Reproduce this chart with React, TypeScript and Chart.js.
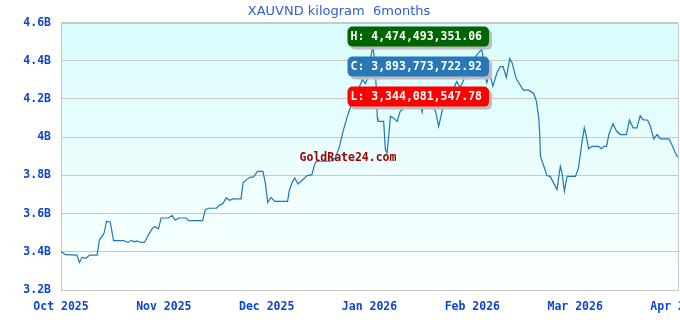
import React, { useEffect, useRef } from 'react';
import { Chart, registerables } from 'chart.js';

Chart.register(...registerables);

const TITLE = 'XAUVND kilogram  6months';
const MONTH_LABELS = ['Oct 2025', 'Nov 2025', 'Dec 2025', 'Jan 2026', 'Feb 2026', 'Mar 2026', 'Apr 2026'];
const WATERMARK = 'GoldRate24.com';

// day offset from 1 Oct 2025
const DAYS = [
  0, 1.3, 4.7, 5.5, 6.2, 7.4, 8.5, 10.7, 11.4, 12.2, 12.8, 13.5, 14.6, 15.6, 18.6, 19.8, 20.9, 21.7, 22.5, 23.7,
  24.8, 25.8, 27.0, 27.8, 28.9, 29.7, 31.9, 32.9, 33.9, 34.9, 37.2, 37.8, 42.0, 42.8, 43.8, 46.1, 47.0, 48.0, 49.0, 50.0,
  51.0, 53.4, 54.0, 55.0, 56.1, 57.1, 58.3, 59.9, 60.6, 61.3, 62.3, 63.4, 67.2, 67.7, 68.5, 69.3, 70.3, 73.0, 74.4, 75.4,
  75.9, 79.9, 81.4, 82.6, 83.8, 84.8, 85.8, 87.3, 88.8, 89.4, 90.3, 90.9, 91.7, 92.5, 93.1, 93.6, 93.8, 94.0, 95.7, 96.2,
  96.7, 97.2, 97.7, 98.6, 99.7, 100.6, 101.2, 103.6, 106.3, 107.1, 107.8, 109.6, 111.1, 112.0, 112.7, 113.4, 115.5, 117.4, 118.4, 120.2,
  122.0, 123.2, 123.8, 124.8, 125.3, 125.8, 126.3, 127.1, 128.1, 129.3, 130.3, 131.1, 132.1, 133.1, 133.8, 135.0, 136.7, 137.2, 138.7, 140.2,
  141.0, 141.7, 142.0, 142.2, 142.7, 143.4, 144.1, 145.1, 147.1, 148.1, 148.6, 149.3, 150.1, 152.6, 153.5, 154.5, 155.2, 155.8, 156.5, 157.5,
  159.5, 160.3, 161.0, 161.8, 162.5, 163.7, 164.8, 165.9, 167.7, 168.6, 169.7, 170.8, 171.8, 172.6, 174.0, 174.8, 175.8, 176.8, 177.8, 180.3,
  181.2, 182.2, 182.9,
];

// price in billions VND
const PRICES_B = [
  3.402, 3.385, 3.383, 3.344, 3.371, 3.366, 3.383, 3.383, 3.464, 3.481, 3.499, 3.559, 3.556, 3.458, 3.458, 3.449, 3.46, 3.452, 3.457, 3.449,
  3.449, 3.485, 3.52, 3.532, 3.52, 3.577, 3.577, 3.591, 3.565, 3.577, 3.577, 3.563, 3.563, 3.621, 3.628, 3.628, 3.645, 3.652, 3.682, 3.67,
  3.677, 3.677, 3.761, 3.778, 3.79, 3.792, 3.821, 3.821, 3.761, 3.659, 3.685, 3.664, 3.664, 3.72, 3.761, 3.787, 3.755, 3.799, 3.804, 3.866,
  3.874, 3.874, 3.892, 3.952, 4.04, 4.101, 4.154, 4.223, 4.276, 4.302, 4.281, 4.307, 4.407, 4.474, 4.396, 4.223, 4.103, 4.083, 4.083, 3.935,
  3.918, 4.005, 4.11, 4.101, 4.083, 4.136, 4.145, 4.197, 4.197, 4.131, 4.197, 4.176, 4.136, 4.057, 4.11, 4.171, 4.223, 4.291, 4.26, 4.328,
  4.396, 4.427, 4.442, 4.459, 4.407, 4.319, 4.285, 4.337, 4.267, 4.337, 4.369, 4.369, 4.314, 4.412, 4.389, 4.307, 4.258, 4.246, 4.246, 4.229,
  4.188, 4.101, 4.014, 3.9, 3.874, 3.839, 3.799, 3.795, 3.726, 3.848, 3.813, 3.717, 3.795, 3.795, 3.839, 3.97, 4.049, 4.005, 3.939, 3.952,
  3.952, 3.939, 3.952, 3.952, 4.014, 4.07, 4.031, 4.014, 4.014, 4.089, 4.049, 4.049, 4.113, 4.092, 4.089, 4.057, 3.991, 4.014, 3.991, 3.991,
  3.961, 3.918, 3.894,
];

const HIGH = 4474493351.06;
const CLOSE = 3893773722.92;
const LOW = 3344081547.78;

const Y_MIN = 3.2;
const Y_MAX = 4.6;
const Y_STEP = 0.2;
const X_MAX_DAYS = 183;

const TICK_FONT = { family: '"DejaVu Sans Mono", monospace', size: 11.5, weight: 'bold' as const };
const TICK_COLOR = '#0b47cf';

const fmt = (n: number) =>
  n.toLocaleString('en-US', { minimumFractionDigits: 2, maximumFractionDigits: 2 });

const decor = {
  id: 'decor',
  beforeDraw(chart: any) {
    const { ctx, chartArea: a } = chart;
    const g = ctx.createLinearGradient(0, a.top, 0, a.bottom);
    g.addColorStop(0, '#d9fcfc');
    g.addColorStop(1, '#fcffff');
    ctx.save();
    ctx.fillStyle = g;
    ctx.fillRect(a.left, a.top, a.right - a.left, a.bottom - a.top);
    ctx.restore();
  },
  beforeDatasetsDraw(chart: any) {
    const { ctx, chartArea: a } = chart;
    ctx.save();
    ctx.strokeStyle = '#c8c8c8';
    ctx.lineWidth = 1;
    ctx.strokeRect(Math.round(a.left) + 0.5, Math.round(a.top) + 0.5, Math.round(a.right - a.left), Math.round(a.bottom - a.top));
    ctx.restore();
  },
  afterDatasetsDraw(chart: any) {
    const { ctx, chartArea: a } = chart;
    ctx.save();
    ctx.font = `bold 11.5px "DejaVu Sans Mono", monospace`;
    ctx.textBaseline = 'middle';
    // watermark
    ctx.fillStyle = '#990000';
    ctx.textAlign = 'center';
    ctx.fillText(WATERMARK, a.left + 287, a.top + 135);
    // stat boxes
    const boxes: [string, string][] = [
      ['H: ' + fmt(HIGH), '#006400'],
      ['C: ' + fmt(CLOSE), '#2878b8'],
      ['L: ' + fmt(LOW), '#ff0000'],
    ];
    ctx.textAlign = 'left';
    boxes.forEach(([txt, col], i) => {
      const w = ctx.measureText(txt).width + 10;
      const h = 20;
      const x = a.left + 286.5;
      const y = a.top + 4 + i * 30;
      ctx.fillStyle = '#bcbcbc';
      ctx.beginPath();
      ctx.roundRect(x + 3, y + 3, w, h, 5);
      ctx.fill();
      ctx.fillStyle = col;
      ctx.beginPath();
      ctx.roundRect(x, y, w, h, 5);
      ctx.fill();
      ctx.fillStyle = '#ffffff';
      ctx.fillText(txt, x + 3, y + h / 2 + 0.5);
    });
    ctx.restore();
  },
};

export default function App() {
  const ref = useRef<HTMLCanvasElement | null>(null);

  useEffect(() => {
    if (!ref.current) return;
    const points = DAYS.map((d, i) => ({ x: d, y: PRICES_B[i] }));
    const chart = new Chart(ref.current, {
      type: 'line',
      data: {
        datasets: [
          {
            data: points,
            borderColor: '#1f77b4',
            borderWidth: 1.2,
            pointRadius: 0,
            tension: 0,
            fill: false,
          },
        ],
      },
      options: {
        animation: false,
        responsive: false,
        devicePixelRatio: 1,
        layout: { padding: { left: 0, right: 2, top: 0, bottom: 0 } },
        plugins: {
          legend: { display: false },
          tooltip: { enabled: false },
          title: {
            display: true,
            text: TITLE,
            color: '#2e5fd6',
            font: { family: '"DejaVu Sans", sans-serif', size: 13, weight: 'normal' },
            padding: { top: 4, bottom: 3 },
          },
        },
        scales: {
          x: {
            type: 'linear',
            min: 0,
            max: X_MAX_DAYS,
            grid: { display: false, drawTicks: false },
            border: { display: true, color: '#c8c8c8' },
            ticks: {
              stepSize: X_MAX_DAYS / (MONTH_LABELS.length - 1),
              autoSkip: false,
              maxRotation: 0,
              padding: 10,
              color: TICK_COLOR,
              font: TICK_FONT,
              callback: (_v: any, i: number) => MONTH_LABELS[i],
            },
            afterFit: (s: any) => {
              s.paddingRight = 0;
              s.height = 30;
            },
          },
          y: {
            min: Y_MIN,
            max: Y_MAX,
            grid: { color: '#c8c8c8', drawTicks: false },
            border: { display: true, color: '#c8c8c8' },
            ticks: {
              stepSize: Y_STEP,
              padding: 10,
              color: TICK_COLOR,
              font: TICK_FONT,
              callback: (v: any) => `${+Number(v).toFixed(1)}B`,
            },
            afterFit: (s: any) => {
              s.width = 61;
            },
          },
        },
      },
      plugins: [decor],
    });
    return () => chart.destroy();
  }, []);

  return (
    <div style={{ position: 'fixed', left: 0, top: 0, width: 680, height: 320, overflow: 'hidden', background: '#fff' }}>
      <canvas ref={ref} width={680} height={320} style={{ display: 'block' }} />
    </div>
  );
}
